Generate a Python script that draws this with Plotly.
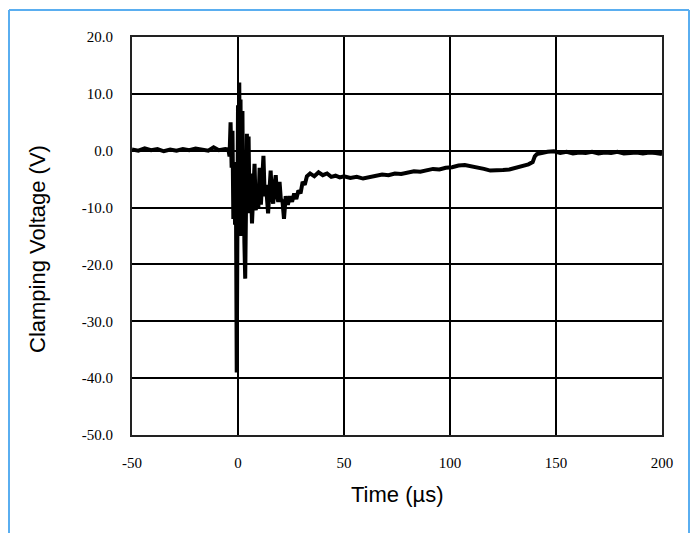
import plotly.graph_objects as go

# ---- data ----
time_us = [
    -50, -47, -44, -41, -38, -35, -32, -29, -26, -23, -20, -17, -14, -11.5, -9, -6, -4.5,
    -4.0, -3.5, -3.0, -2.6, -2.2, -1.8, -1.4, -1.0, -0.6, -0.3, 0.0, 0.3, 0.6, 0.9, 1.2,
    1.5, 1.8, 2.1, 2.4, 2.7, 3.0, 3.4, 3.8, 4.2, 4.6, 5.0, 5.4, 6.0, 6.6, 7.2, 7.8, 8.4,
    9.0, 9.6, 10.2, 10.8, 11.4, 12.0, 12.6, 13.2, 14.2, 14.8, 15.4, 16.0, 16.6, 17.2,
    17.8, 18.4, 19.0, 19.6, 20.2, 21.0, 21.7, 22.5, 23.5, 24.5, 25.5, 26.5, 27.5, 28.5,
    29.5, 30.5, 31.5, 32.5, 34, 36, 38, 40, 42, 44, 46, 48, 50, 53, 56, 59, 62, 65, 68,
    71, 74, 77, 80, 83, 86, 89, 92, 95, 98, 101, 104, 107, 110, 113, 116, 119, 122, 125,
    128, 131, 134, 137, 139, 140, 141, 143, 146, 149, 152, 155, 158, 161, 164, 167, 170,
    173, 176, 179, 182, 185, 188, 191, 194, 197, 200,
]
voltage_v = [
    0.2, 0.0, 0.4, 0.1, 0.3, -0.1, 0.2, 0.0, 0.3, 0.1, 0.4, 0.2, 0.0, 0.6, 0.1, 0.3, 0.2,
    -1.0, 5.0, -3.0, 3.5, -12.0, -2.0, -13.0, -5.0, -39.0, -8.0, 8.0, -14.0, 12.0, -10.0, 9.0,
    -15.0, 2.0, 7.0, -12.0, -2.0, -16.0, -22.5, -9.0, 3.0, -11.0, 2.5, -10.0, -4.0, -12.8, -5.0, -2.3, -10.5,
    -6.0, -10.0, -3.0, -9.5, -4.0, -0.9, -8.0, -6.0, -11.0, -6.0, -3.5, -8.0, -9.3, -6.0,
    -4.3, -8.0, -9.0, -5.5, -8.5, -9.0, -12.0, -8.0, -9.5, -8.0, -9.0, -7.5, -8.5, -7.0,
    -7.5, -5.5, -6.0, -4.5, -4.0, -4.5, -3.8, -4.3, -4.0, -4.6, -4.4, -4.7, -4.5, -4.8, -4.6, -4.9, -4.7, -4.5, -4.2,
    -4.3, -4.0, -4.1, -3.8, -3.6, -3.7, -3.4, -3.2, -3.3, -3.0, -2.9, -2.6, -2.5, -2.7, -2.9, -3.2, -3.5, -3.5, -3.4,
    -3.3, -3.0, -2.7, -2.4, -2.0, -1.0, -0.6, -0.4, -0.2, -0.1, -0.4, -0.2, -0.5, -0.3, -0.4, -0.2, -0.5,
    -0.3, -0.4, -0.2, -0.5, -0.4, -0.3, -0.5, -0.3, -0.4, -0.6,
]
x_ticks = [-50, 0, 50, 100, 150, 200]
y_ticks = [20, 10, 0, -10, -20, -30, -40, -50]
y_tick_labels = ["20.0", "10.0", "0.0", "-10.0", "-20.0", "-30.0", "-40.0", "-50.0"]
x_title = "Time (µs)"
y_title = "Clamping Voltage (V)"
top_title = "(Clamping Voltage Waveform)"

fig = go.Figure()
fig.add_trace(go.Scatter(
    x=time_us, y=voltage_v, mode="lines",
    line=dict(color="black", width=4),
    showlegend=False, hoverinfo="skip",
))

# page is offset by the 8px body margin
OFF = 8
W, H = 690, 525
L, R, T, B = 124, 36, 29, 98
plot_w = W - L - R
plot_h = H - T - B

def px_x(p):  # page pixel -> paper x
    return (p - OFF - L) / plot_w

def px_y(p):  # page pixel -> paper y
    return (H - B - (p - OFF)) / plot_h

tick_font = dict(family="Liberation Serif, Times New Roman, serif", size=15, color="black")
title_font = dict(family="Liberation Sans, Arial, sans-serif", size=22, color="black")

fig.update_layout(
    width=W, height=H,
    margin=dict(l=L, r=R, t=T, b=B),
    paper_bgcolor="white", plot_bgcolor="white",
    xaxis=dict(
        range=[-50, 200], tickvals=x_ticks, ticktext=[str(v) for v in x_ticks],
        showgrid=True, gridcolor="black", gridwidth=1.5,
        zeroline=False, showline=True, linecolor="#222", linewidth=2, mirror=True,
        ticks="outside", ticklen=13, tickcolor="rgba(0,0,0,0)",
        tickfont=tick_font, fixedrange=True,
    ),
    yaxis=dict(
        range=[-50, 20], tickvals=y_ticks, ticktext=y_tick_labels,
        showgrid=True, gridcolor="black", gridwidth=1.5,
        zeroline=False, showline=True, linecolor="#222", linewidth=2, mirror=True,
        ticks="outside", ticklen=14, tickcolor="rgba(0,0,0,0)",
        tickfont=tick_font, fixedrange=True,
    ),
    annotations=[
        dict(text=x_title, xref="paper", yref="paper", x=px_x(397), y=px_y(494),
             xanchor="center", yanchor="middle", showarrow=False, font=title_font),
        dict(text=y_title, xref="paper", yref="paper", x=px_x(37), y=px_y(249),
             xanchor="center", yanchor="middle", textangle=-90, showarrow=False, font=title_font),
        dict(text="<b>" + top_title + "</b>", xref="paper", yref="paper", x=px_x(279), y=px_y(9.5),
             xanchor="center", yanchor="bottom", showarrow=False, borderpad=0,
             font=dict(family="Liberation Sans, Arial, sans-serif", size=22, color="black")),
    ],
    shapes=[
        dict(type="line", xref="paper", yref="paper", x0=px_x(9), x1=px_x(9), y0=px_y(545), y1=px_y(10),
             line=dict(color="#5aaef0", width=2)),
        dict(type="line", xref="paper", yref="paper", x0=px_x(9), x1=px_x(689), y0=px_y(10), y1=px_y(10),
             line=dict(color="#5aaef0", width=2)),
        dict(type="line", xref="paper", yref="paper", x0=px_x(689), x1=px_x(689), y0=px_y(10), y1=px_y(545),
             line=dict(color="#5aaef0", width=2)),
    ],
)

fig.write_html("out.html")
